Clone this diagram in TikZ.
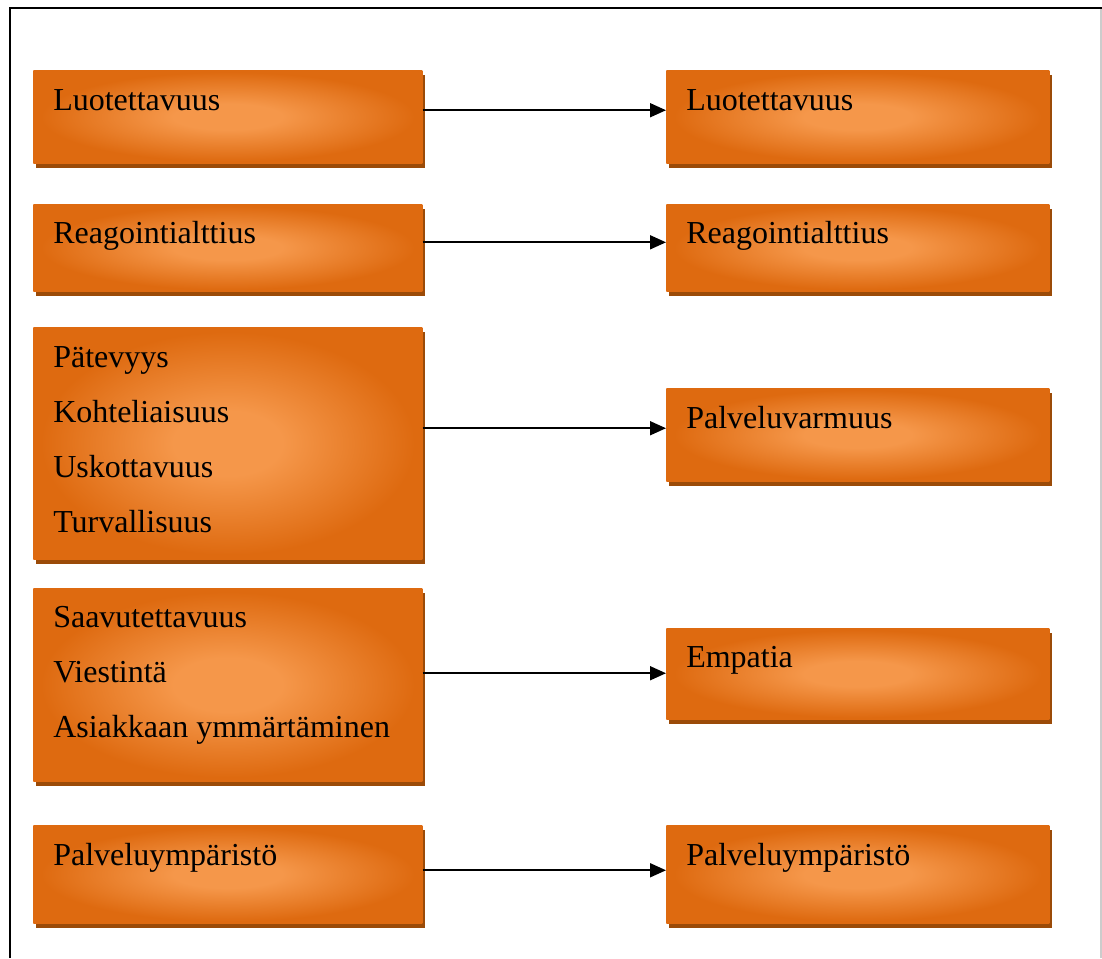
\documentclass[tikz,border=0pt]{standalone}
\usepackage{fontspec}
\setmainfont{Liberation Serif}
\usetikzlibrary{arrows.meta,shadows}
\definecolor{boxedge}{RGB}{222,106,16}
\definecolor{boxmid}{RGB}{245,151,74}
\definecolor{boxshade}{RGB}{155,75,8}
\pgfdeclareradialshading{boxglow}{\pgfpoint{0cm}{0cm}}{color(0bp)=(boxmid);
  color(7bp)=(boxmid); color(24bp)=(boxedge); color(50bp)=(boxedge)}

\begin{document}
\begin{tikzpicture}[x=0.75pt, y=-0.75pt, >={Triangle[length=12pt,width=10.5pt]},
  box/.style 2 args={anchor=north west, inner sep=0pt,
    minimum width=#1*0.75pt, minimum height=#2*0.75pt, shading=boxglow,
    drop shadow={shadow xshift=2.2pt, shadow yshift=-3.75pt, fill=boxshade, opacity=1}},
  lbl/.style={anchor=base west, inner sep=0pt, align=left,
    font=\fontsize{24}{41.25}\selectfont},
  link/.style={->, line width=1.3pt}]
  \useasboundingbox (0,0) rectangle (1102,958);
  \draw[line width=1.5pt] (10,958) -- (10,8) -- (1102,8);
  \draw[black!20, line width=0.8pt] (1101,9) -- (1101,958);

  \node[box={389}{93}] (l1) at (33,70) {};
  \node[box={383}{93}] (r1) at (666,70) {};
  \node[box={389}{87}] (l2) at (33,204) {};
  \node[box={383}{87}] (r2) at (666,204) {};
  \node[box={389}{232}] (l3) at (33,327) {};
  \node[box={383}{93}] (r3) at (666,388) {};
  \node[box={389}{193}] (l4) at (33,588) {};
  \node[box={383}{91}] (r4) at (666,628) {};
  \node[box={389}{98}] (l5) at (33,825) {};
  \node[box={383}{98}] (r5) at (666,825) {};

  % multi-line labels sit on the baseline of their last line
  \node[lbl] (tl1) at ([shift={(20,40)}]l1.north west) {Luotettavuus};
  \node[lbl] (tr1) at ([shift={(20,40)}]r1.north west) {Luotettavuus};
  \node[lbl] (tl2) at ([shift={(20,39)}]l2.north west) {Reagointialttius};
  \node[lbl] (tr2) at ([shift={(20,39)}]r2.north west) {Reagointialttius};
  \node[lbl] (tl3) at ([shift={(20,205)}]l3.north west)
    {Pätevyys\\Kohteliaisuus\\Uskottavuus\\Turvallisuus};
  \node[lbl] (tr3) at ([shift={(20,40)}]r3.north west) {Palveluvarmuus};
  \node[lbl] (tl4) at ([shift={(20,149)}]l4.north west)
    {Saavutettavuus\\Viestintä\\Asiakkaan ymmärtäminen};
  \node[lbl] (tr4) at ([shift={(20,39)}]r4.north west) {Empatia};
  \node[lbl] (tl5) at ([shift={(20,40)}]l5.north west) {Palveluympäristö};
  \node[lbl] (tr5) at ([shift={(20,40)}]r5.north west) {Palveluympäristö};

  \foreach \a/\b/\d in {l1/r1/4.9, l2/r2/4.1, l3/r3/4.9, l4/r4/0.4, l5/r5/3}
    \draw[link, transform canvas={yshift=\d pt}] (\a.east |- \b.west) -- (\b.west);
\end{tikzpicture}
\end{document}
